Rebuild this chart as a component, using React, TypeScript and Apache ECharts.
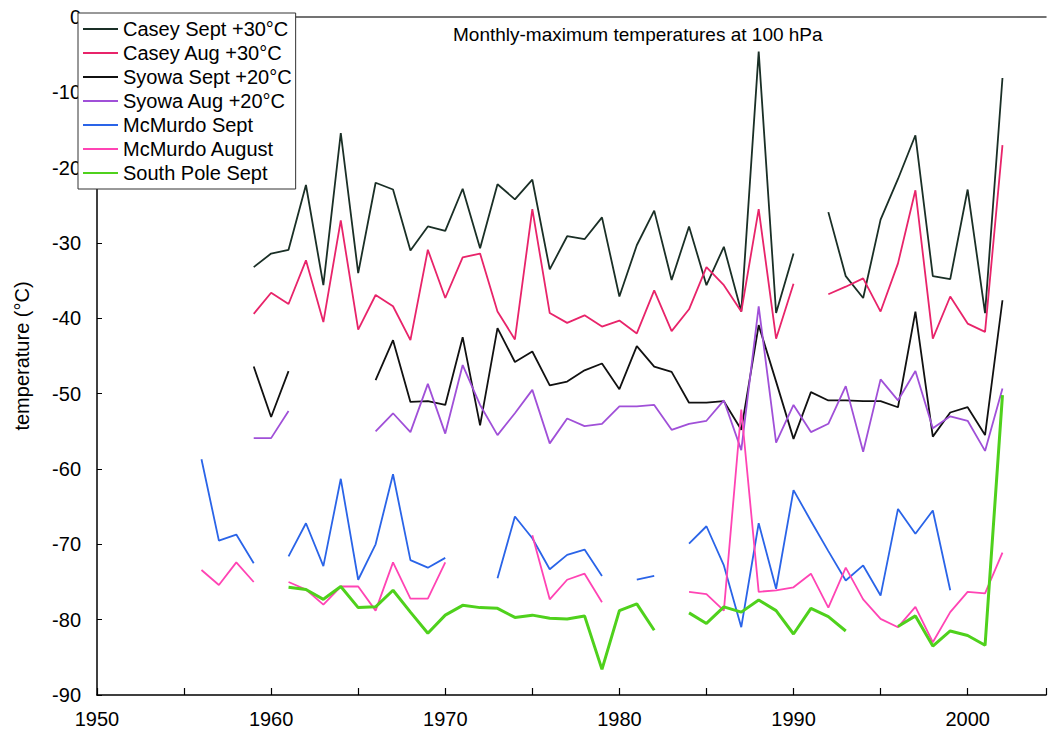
import React, { useEffect, useRef } from "react";
import * as echarts from "echarts";

const years = [
  1956, 1957, 1958, 1959, 1960, 1961, 1962, 1963, 1964, 1965, 1966, 1967, 1968, 1969, 1970,
  1971, 1972, 1973, 1974, 1975, 1976, 1977, 1978, 1979, 1980, 1981, 1982, 1983, 1984, 1985,
  1986, 1987, 1988, 1989, 1990, 1991, 1992, 1993, 1994, 1995, 1996, 1997, 1998, 1999, 2000,
  2001, 2002,
];

const caseySept = [
  null, null, null, -33.2, -31.4, -30.9, -22.3, -35.6, -15.4, -34.0, -22.0, -22.9, -31.0, -27.8, -28.4,
  -22.8, -30.7, -22.2, -24.2, -21.6, -33.5, -29.1, -29.5, -26.6, -37.1, -30.3, -25.7, -34.9, -27.8, -35.6,
  -30.5, -39.1, -4.6, -39.3, -31.4, null, -25.9, -34.4, -37.3, -26.9, -21.5, -15.7, -34.4, -34.8, -22.9,
  -39.3, -8.1,
];

const caseyAug = [
  null, null, null, -39.4, -36.6, -38.1, -32.3, -40.5, -27.0, -41.5, -36.9, -38.4, -42.9, -30.9, -37.3,
  -31.9, -31.4, -39.1, -42.8, -25.5, -39.3, -40.6, -39.6, -41.1, -40.3, -42.0, -36.3, -41.7, -38.8, -33.2,
  -35.6, -39.1, -25.5, -42.7, -35.4, null, -36.8, -35.8, -34.7, -39.1, -32.7, -23.0, -42.7, -37.1, -40.7,
  -41.8, -17.0,
];

const syowaSept = [
  null, null, null, -46.4, -53.1, -47.0, null, null, null, null, -48.2, -42.9, -51.1, -51.0, -51.5,
  -42.5, -54.2, -41.3, -45.8, -44.4, -48.9, -48.4, -46.9, -46.0, -49.4, -43.7, -46.4, -47.1, -51.2, -51.2,
  -51.0, -54.8, -40.9, -48.4, -56.0, -49.8, -50.9, -50.9, -51.0, -51.0, -51.8, -39.1, -55.7, -52.5, -51.8,
  -55.5, -37.6,
];

const syowaAug = [
  null, null, null, -55.9, -55.9, -52.3, null, null, null, null, -55.0, -52.6, -55.1, -48.7, -55.3,
  -46.2, -51.5, -55.5, -52.6, -49.5, -56.6, -53.3, -54.3, -54.0, -51.7, -51.7, -51.5, -54.8, -54.0, -53.6,
  -50.9, -57.5, -38.4, -56.5, -51.5, -55.1, -54.0, -49.0, -57.7, -48.1, -50.9, -47.0, -54.6, -53.0, -53.6,
  -57.6, -49.3,
];

const mcmurdoSept = [
  -58.7, -69.5, -68.7, -72.5, null, -71.6, -67.2, -72.9, -61.3, -74.7, -70.0, -60.7, -72.1, -73.1, -71.8,
  null, null, -74.5, -66.3, -69.2, -73.3, -71.4, -70.7, -74.2, null, -74.7, -74.2, null, -69.9, -67.6,
  -72.8, -81.0, -67.2, -75.9, -62.8, -66.9, -70.9, -74.8, -72.8, -76.8, -65.3, -68.6, -65.5, -76.1, null,
  null, null,
];

const mcmurdoAug = [
  -73.4, -75.4, -72.4, -75.0, null, -75.0, -76.0, -78.0, -75.6, -75.6, -78.8, -72.4, -77.2, -77.2, -72.4,
  null, null, null, null, -68.8, -77.3, -74.7, -73.9, -77.7, null, null, null, null, -76.3, -76.6,
  -78.8, -52.1, -76.3, -76.1, -75.7, -73.9, -78.4, -73.1, -77.3, -79.9, -81.0, -78.3, -83.0, -79.0, -76.3,
  -76.5, -71.1,
];

const southPoleSept = [
  null, null, null, null, null, -75.7, -76.0, -77.3, -75.6, -78.4, -78.3, -76.1, -79.0, -81.8, -79.4,
  -78.1, -78.4, -78.5, -79.7, -79.4, -79.8, -79.9, -79.5, -86.6, -78.8, -77.9, -81.4, null, -79.1, -80.5,
  -78.3, -79.0, -77.4, -78.8, -81.9, -78.5, -79.6, -81.5, null, null, -80.9, -79.5, -83.5, -81.5, -82.1,
  -83.4, -50.2,
];

const seriesNames = [
  "Casey Sept +30°C",
  "Casey Aug +30°C",
  "Syowa Sept +20°C",
  "Syowa Aug +20°C",
  "McMurdo Sept",
  "McMurdo August",
  "South Pole Sept",
];
const seriesValues = [caseySept, caseyAug, syowaSept, syowaAug, mcmurdoSept, mcmurdoAug, southPoleSept];
const seriesColors = ["#1a2f26", "#e8246a", "#111111", "#a050d8", "#2a64e8", "#ff44b4", "#4fd11c"];
const seriesWidths = [1.8, 1.8, 1.8, 1.8, 1.8, 1.8, 3];

const xTicks = [1950, 1960, 1970, 1980, 1990, 2000];

const FONT = "'Liberation Sans', Arial, Helvetica, sans-serif";

export default function App() {
  const ref = useRef<HTMLDivElement>(null);
  useEffect(() => {
    if (!ref.current) return;
    const chart = echarts.init(ref.current, undefined, { renderer: "svg" });
    const series = seriesNames.map((name, k) => ({
      name,
      type: "line",
      showSymbol: false,
      symbol: "none",
      connectNulls: false,
      color: seriesColors[k],
      lineStyle: { color: seriesColors[k], width: seriesWidths[k] },
      data: years.map((y, i) => [y, seriesValues[k][i] === null ? "-" : seriesValues[k][i]]),
    }));
    chart.setOption({
      animation: false,
      backgroundColor: "#fff",
      textStyle: { fontFamily: FONT },
      title: {
        text: "Monthly-maximum temperatures at 100 hPa",
        left: 453,
        top: 25,
        padding: 0,
        textStyle: { fontSize: 19, fontWeight: "normal", color: "#000", fontFamily: FONT },
      },
      legend: {
        orient: "vertical",
        left: 78,
        top: 13,
        padding: [6, 4, 6, 5],
        itemGap: 4,
        itemWidth: 35,
        itemHeight: 2,
        icon: "rect",
        backgroundColor: "#fff",
        borderColor: "#333",
        borderWidth: 1,
        z: 10,
        textStyle: { fontSize: 20, color: "#000", fontFamily: FONT },
        data: seriesNames,
      },
      grid: { left: 97, right: 0, top: 17, bottom: 42, containLabel: false },
      xAxis: [
        {
          type: "value",
          min: 1950,
          max: 2004.5,
          interval: 5,
          axisLine: { show: true, onZero: false, lineStyle: { color: "#000", width: 1.5 } },
          axisTick: { show: true, inside: true, length: 7, lineStyle: { color: "#000", width: 1.2 } },
          axisLabel: {
            fontSize: 20,
            color: "#000",
            margin: 14,
            fontFamily: FONT,
            formatter: (v: number) => (xTicks.indexOf(v) >= 0 ? String(v) : ""),
          },
          splitLine: { show: false },
        },
        {
          type: "value",
          position: "top",
          min: 1950,
          max: 2004.5,
          axisLine: { show: true, onZero: false, lineStyle: { color: "#444", width: 1.5 } },
          axisTick: { show: false },
          axisLabel: { show: false },
          splitLine: { show: false },
        },
      ],
      yAxis: {
        type: "value",
        min: -90,
        max: 0,
        interval: 10,
        name: "temperature (°C)",
        nameLocation: "middle",
        nameGap: 65,
        nameTextStyle: { fontSize: 20, color: "#000", fontFamily: FONT },
        axisLine: { show: true, onZero: false, lineStyle: { color: "#000", width: 1.5 } },
        axisTick: { show: true, inside: true, length: 5, lineStyle: { color: "#000" } },
        axisLabel: { fontSize: 20, color: "#000", margin: 16, fontFamily: FONT },
        splitLine: { show: false },
      },
      series,
    });
    return () => chart.dispose();
  }, []);
  return (
    <div
      ref={ref}
      style={{ position: "fixed", left: 0, top: 0, width: 1049, height: 737, background: "#fff" }}
    />
  );
}
